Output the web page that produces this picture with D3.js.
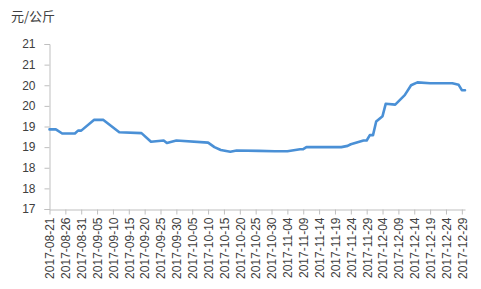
<!DOCTYPE html>
<html><head><meta charset="utf-8">
<script src="https://cdn.jsdelivr.net/npm/d3@7"></script>
<style>body{margin:0;background:#fff}svg{display:block}</style>
</head><body>
<script>
const unitLabel = "元/公斤";
const dates = ["2017-08-21","2017-08-23","2017-08-25","2017-08-29","2017-08-30","2017-08-31","2017-09-04","2017-09-07","2017-09-12","2017-09-19","2017-09-22","2017-09-26","2017-09-27","2017-09-30","2017-10-10","2017-10-12","2017-10-14","2017-10-17","2017-10-19","2017-10-26","2017-10-31","2017-11-04","2017-11-08","2017-11-09","2017-11-10","2017-11-21","2017-11-23","2017-11-24","2017-11-28","2017-11-29","2017-11-30","2017-12-01","2017-12-02","2017-12-04","2017-12-05","2017-12-08","2017-12-11","2017-12-13","2017-12-15","2017-12-19","2017-12-26","2017-12-28","2017-12-29","2017-12-30"];
const prices = [18.93,18.93,18.83,18.83,18.90,18.90,19.16,19.16,18.86,18.84,18.63,18.66,18.60,18.66,18.61,18.50,18.43,18.39,18.42,18.41,18.40,18.40,18.45,18.45,18.50,18.50,18.53,18.57,18.66,18.66,18.79,18.79,19.12,19.25,19.55,19.53,19.76,20.00,20.07,20.05,20.05,20.01,19.88,19.88];
const yTicks = [17,17.5,18,18.5,19,19.5,20,20.5,21];
const xTickStart = "2017-08-21", xTickEnd = "2017-12-29", xDomainEnd = "2017-12-30";

const W = 481, H = 289;
const parse = d3.utcParse("%Y-%m-%d");
const fmt = d3.utcFormat("%Y-%m-%d");
const data = dates.map((d,i)=>({d:parse(d), v:prices[i]}));

const svg = d3.select("body").append("svg").attr("width",W).attr("height",H);
const x = d3.scaleUtc().domain([parse(xTickStart), parse(xDomainEnd)]).range([49.5, 465]);
const y = d3.scaleLinear().domain([17,21]).range([209, 44]);
const xTicks = d3.utcDay.range(parse(xTickStart), d3.utcDay.offset(parse(xTickEnd),1), 5);

const gy = svg.append("g").attr("transform","translate(49.5,0)")
  .call(d3.axisLeft(y).tickValues(yTicks).tickSize(5).tickPadding(9).tickFormat(v=>v.toFixed(0)));
gy.select(".domain").attr("stroke","#bfbfbf");
gy.selectAll(".tick line").attr("stroke","#bfbfbf");
gy.selectAll("text").attr("font-family","Liberation Sans, Arial, sans-serif").attr("font-size",12).attr("fill","#404040");

const gx = svg.append("g").attr("transform","translate(0,209.5)")
  .call(d3.axisBottom(x).tickValues(xTicks).tickSize(5).tickSizeOuter(0).tickFormat(fmt));
gx.select(".domain").attr("stroke","#bfbfbf");
gx.selectAll(".tick line").attr("stroke","#bfbfbf");
gx.selectAll("text").attr("font-family","Liberation Sans, Arial, sans-serif").attr("font-size",12).attr("fill","#404040")
  .attr("transform","rotate(-90)").attr("text-anchor","end").attr("dx",0).attr("dy","0.36em").attr("y",0).attr("x",-8);

svg.append("path").datum(data)
  .attr("fill","none").attr("stroke","#4a90d6").attr("stroke-width",2.6).attr("stroke-linejoin","round").attr("stroke-linecap","round")
  .attr("d", d3.line().x(d=>x(d.d)).y(d=>y(d.v)));

svg.append("text").attr("x",11).attr("y",21).text(unitLabel)
  .attr("font-family","Noto Sans CJK SC, sans-serif").attr("font-size",13).attr("fill","#404040");
</script>
</body></html>
